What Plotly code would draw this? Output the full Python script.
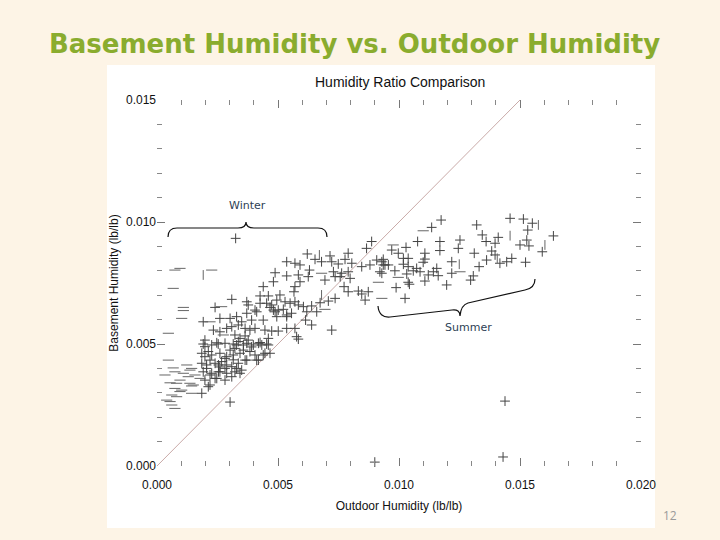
import plotly.graph_objects as go

# ---------------- data (lb/lb) ----------------
# points drawn as "+" markers
plus_x = [
    0.01174, 0.01135, 0.01321, 0.01459, 0.01514, 0.01551, 0.01532, 0.01638, 0.01344, 0.01410,
    0.01360, 0.01397, 0.01528, 0.01500, 0.01537, 0.01592, 0.01252, 0.01169, 0.01245, 0.01169,
    0.01077, 0.01029, 0.00997, 0.00970, 0.01107, 0.01107, 0.01311, 0.01383, 0.01397, 0.01362,
    0.01417, 0.01445, 0.01466, 0.01523, 0.01218, 0.01331, 0.00935, 0.00942, 0.01018, 0.01038,
    0.01018, 0.01038, 0.01100, 0.01073, 0.01059, 0.01087, 0.00983, 0.01156, 0.01142, 0.01121,
    0.01162, 0.01218, 0.01032, 0.01038, 0.01043, 0.01107, 0.01307, 0.01296, 0.01197, 0.00988,
    0.01025, 0.00929,
    0.00887, 0.00866, 0.00790, 0.00621, 0.00715, 0.00653, 0.00680, 0.00536, 0.00570, 0.00591,
    0.00722, 0.00749, 0.00777, 0.00805, 0.00846, 0.00880, 0.00908, 0.00929, 0.00935, 0.00630,
    0.00729, 0.00763, 0.00790, 0.00488, 0.00536, 0.00584, 0.00625, 0.00694, 0.00736, 0.00757,
    0.00798, 0.00921, 0.00956, 0.00481, 0.00591, 0.00570, 0.00566, 0.00773, 0.00790, 0.00832,
    0.00846, 0.00873, 0.00860, 0.00508, 0.00495, 0.00529, 0.00550, 0.00570, 0.00584, 0.00605,
    0.00639, 0.00674, 0.00708, 0.00736, 0.00619, 0.00660, 0.00481, 0.00501, 0.00522, 0.00536,
    0.00474,
    0.00439, 0.00426, 0.00460, 0.00309, 0.00371, 0.00377, 0.00426, 0.00453, 0.00240, 0.00405,
    0.00412, 0.00467, 0.00488, 0.00495, 0.00536, 0.00556, 0.00439, 0.00371, 0.00391, 0.00350,
    0.00329, 0.00302, 0.00260, 0.00191, 0.00309, 0.00336, 0.00364, 0.00384, 0.00288, 0.00233,
    0.00260, 0.00405, 0.00446, 0.00474, 0.00501, 0.00322, 0.00343, 0.00377, 0.00460, 0.00198,
    0.00191, 0.00226, 0.00253, 0.00281, 0.00315, 0.00357, 0.00419, 0.00453, 0.00391,
    0.00577, 0.00570, 0.00536, 0.00614, 0.00639, 0.00722, 0.00584,
    0.00198, 0.00247, 0.00329, 0.00322, 0.00357, 0.00371, 0.00398, 0.00433, 0.00460, 0.00405,
    0.00439, 0.00412, 0.00185, 0.00226, 0.00260, 0.00288, 0.00315, 0.00343, 0.00364, 0.00336,
    0.00309, 0.00288, 0.00267, 0.00240, 0.00205, 0.00219, 0.00191, 0.00226, 0.00260, 0.00288,
    0.00322, 0.00350, 0.00247, 0.00198, 0.00281, 0.00309, 0.00343, 0.00219, 0.00212, 0.00185,
    0.00302, 0.00467,
    0.00212, 0.00198, 0.00185, 0.00205, 0.00219, 0.00254, 0.00281, 0.00302, 0.00336, 0.00364,
    0.00426, 0.00384, 0.00315, 0.00281, 0.00254, 0.00240, 0.00260, 0.00446, 0.00419, 0.00371,
    0.00329,
    0.00325, 0.01438, 0.00900, 0.01430,
]
plus_y = [
    0.01008, 0.00978, 0.00988, 0.01015, 0.01012, 0.00995, 0.00967, 0.00943, 0.00947, 0.00937,
    0.00920, 0.00913, 0.00926, 0.00906, 0.00902, 0.00878, 0.00926, 0.00920, 0.00892, 0.00883,
    0.00920, 0.00896, 0.00872, 0.00885, 0.00872, 0.00848, 0.00872, 0.00881, 0.00865, 0.00844,
    0.00831, 0.00837, 0.00851, 0.00835, 0.00837, 0.00817, 0.00847, 0.00824, 0.00851, 0.00851,
    0.00827, 0.00817, 0.00835, 0.00810, 0.00800, 0.00796, 0.00800, 0.00810, 0.00796, 0.00783,
    0.00780, 0.00790, 0.00787, 0.00753, 0.00745, 0.00758, 0.00779, 0.00762, 0.00742, 0.00731,
    0.00687, 0.00790,
    0.00920, 0.00892, 0.00872, 0.00869, 0.00861, 0.00847, 0.00837, 0.00837, 0.00831, 0.00824,
    0.00837, 0.00828, 0.00847, 0.00831, 0.00817, 0.00824, 0.00844, 0.00837, 0.00824, 0.00803,
    0.00796, 0.00790, 0.00796, 0.00792, 0.00779, 0.00783, 0.00776, 0.00762, 0.00776, 0.00776,
    0.00769, 0.00796, 0.00824, 0.00755, 0.00755, 0.00735, 0.00714, 0.00735, 0.00714, 0.00717,
    0.00705, 0.00714, 0.00680, 0.00701, 0.00680, 0.00673, 0.00667, 0.00673, 0.00660, 0.00653,
    0.00656, 0.00669, 0.00676, 0.00687, 0.00632, 0.00632, 0.00639, 0.00639, 0.00642, 0.00619,
    0.00660,
    0.00735, 0.00697, 0.00697, 0.00683, 0.00673, 0.00660, 0.00667, 0.00667, 0.00650, 0.00639,
    0.00632, 0.00650, 0.00632, 0.00612, 0.00612, 0.00626, 0.00598, 0.00626, 0.00598, 0.00591,
    0.00612, 0.00605, 0.00605, 0.00591, 0.00571, 0.00578, 0.00564, 0.00557, 0.00564, 0.00557,
    0.00550, 0.00564, 0.00557, 0.00553, 0.00553, 0.00537, 0.00523, 0.00516, 0.00523, 0.00516,
    0.00500, 0.00496, 0.00500, 0.00503, 0.00500, 0.00496, 0.00503, 0.00500, 0.00488,
    0.00530, 0.00564, 0.00564, 0.00598, 0.00578, 0.00557, 0.00520,
    0.00489, 0.00505, 0.00496, 0.00482, 0.00475, 0.00503, 0.00496, 0.00496, 0.00496, 0.00455,
    0.00455, 0.00434, 0.00462, 0.00455, 0.00462, 0.00448, 0.00455, 0.00462, 0.00434, 0.00421,
    0.00407, 0.00414, 0.00428, 0.00421, 0.00414, 0.00434, 0.00386, 0.00380, 0.00386, 0.00380,
    0.00386, 0.00393, 0.00359, 0.00352, 0.00352, 0.00366, 0.00380, 0.00332, 0.00325, 0.00298,
    0.00262, 0.00462,
    0.00469, 0.00448, 0.00421, 0.00400, 0.00373, 0.00414, 0.00441, 0.00475, 0.00510, 0.00533,
    0.00506, 0.00469, 0.00435, 0.00400, 0.00386, 0.00359, 0.00406, 0.00462, 0.00434, 0.00434,
    0.00400,
    0.00933, 0.00266, 0.00016, 0.00037,
]

# points whose cross renders as a horizontal dash in the reference
dash_x = [
    0.00047, 0.00123, 0.00143, 0.00074, 0.00109, 0.00157, 0.00033, 0.00129, 0.00178, 0.00095,
    0.00054, 0.00136, 0.00143, 0.00074, 0.00095, 0.00143, 0.00061, 0.00081, 0.00040, 0.00061,
    0.00074, 0.00150, 0.00081, 0.00102, 0.00054, 0.00067, 0.00136,
    0.00095, 0.00074, 0.00226, 0.00067, 0.00109, 0.00109, 0.00102, 0.00047, 0.00267, 0.00219,
    0.00274,
    0.01100, 0.00976, 0.00997, 0.01252, 0.00929, 0.00680, 0.00915, 0.00694,
]
dash_y = [
    0.00434, 0.00414, 0.00400, 0.00386, 0.00380, 0.00373, 0.00373, 0.00366, 0.00359, 0.00352,
    0.00341, 0.00339, 0.00328, 0.00318, 0.00305, 0.00298, 0.00291, 0.00284, 0.00270, 0.00250,
    0.00236, 0.00332, 0.00339, 0.00311, 0.00264, 0.00402, 0.00393,
    0.00810, 0.00803, 0.00803, 0.00728, 0.00650, 0.00637, 0.00605, 0.00544, 0.00653, 0.00591,
    0.00537,
    0.00964, 0.00906, 0.00773, 0.00796, 0.00687, 0.00790, 0.00753, 0.00642,
]

# points whose cross renders as a vertical bar in the reference
bar_x = [0.01576, 0.01459, 0.01406, 0.01249, 0.01603, 0.00671, 0.00680, 0.00191]
bar_y = [0.00988, 0.00944, 0.00851, 0.00827, 0.00906, 0.00865, 0.00701, 0.00783]

# 1:1 reference line
ref_x = [0.0, 0.0152]
ref_y = [0.0, 0.0152]

x_ticks = [0.000, 0.005, 0.010, 0.015, 0.020]
y_ticks = [0.000, 0.005, 0.010, 0.015]

# ---------------- figure ----------------
W, H = 720, 540
L, R, T, B = 157, 641, 100, 466


def px_x(p):
    return (p - L) / (R - L)


def px_y(p):
    return (B - p) / (B - T)


mark_col = "#444444"
fig = go.Figure()

fig.add_trace(go.Scatter(x=ref_x, y=ref_y, mode="lines",
                         line=dict(color="#c9aaa8", width=1), hoverinfo="skip"))
fig.add_trace(go.Scatter(x=plus_x, y=plus_y, mode="markers",
                         marker=dict(symbol="cross-thin", size=7,
                                     line=dict(color=mark_col, width=1))))
fig.add_trace(go.Scatter(x=dash_x, y=dash_y, mode="markers",
                         marker=dict(symbol="line-ew", size=8,
                                     line=dict(color="#666666", width=1))))
fig.add_trace(go.Scatter(x=bar_x, y=bar_y, mode="markers",
                         marker=dict(symbol="line-ns", size=7,
                                     line=dict(color="#666666", width=1))))

shapes = [
    # white picture box
    dict(type="rect", xref="paper", yref="paper", layer="below",
         x0=px_x(107), x1=px_x(655), y0=px_y(528), y1=px_y(65),
         fillcolor="white", line=dict(width=0)),
]


def brace(points):
    parts = []
    for cmd, pts in points:
        coords = " ".join(f"{px_x(a):.5f},{px_y(b):.5f}" for a, b in pts)
        parts.append(f"{cmd} {coords}")
    return " ".join(parts)


winter_path = brace([
    ("M", [(168, 237)]), ("Q", [(168, 228), (177, 228)]), ("L", [(238, 228)]),
    ("Q", [(246, 228), (246, 222)]), ("Q", [(246, 228), (254, 228)]),
    ("L", [(318, 228)]), ("Q", [(327, 228), (327, 237)]),
])
summer_path = brace([
    ("M", [(378, 306)]), ("Q", [(379, 318), (390, 317)]), ("L", [(452, 310)]),
    ("Q", [(460, 309), (460, 316)]), ("Q", [(461, 305), (468, 303)]),
    ("L", [(525, 290)]), ("Q", [(535, 288), (535, 279)]),
])
for pth in (winter_path, summer_path):
    shapes.append(dict(type="path", xref="paper", yref="paper", path=pth,
                       line=dict(color="#111111", width=1.2)))

annotations = [
    dict(text="<b>Basement Humidity vs. Outdoor Humidity</b>", xref="paper", yref="paper",
         x=px_x(354), y=px_y(44), showarrow=False, xanchor="center", yanchor="middle",
         font=dict(family="DejaVu Sans", size=26, color="#8aac2e")),
    dict(text="Humidity Ratio Comparison", xref="paper", yref="paper",
         x=px_x(400), y=px_y(82), showarrow=False, xanchor="center", yanchor="middle",
         font=dict(family="Liberation Sans", size=14, color="#111111")),
    dict(text="Winter", xref="paper", yref="paper", x=px_x(247), y=px_y(205),
         showarrow=False, xanchor="center", yanchor="middle",
         font=dict(family="DejaVu Sans", size=11, color="#2e3f55")),
    dict(text="Summer", xref="paper", yref="paper", x=px_x(468), y=px_y(327),
         showarrow=False, xanchor="center", yanchor="middle",
         font=dict(family="DejaVu Sans", size=11, color="#2e3f55")),
    dict(text="12", xref="paper", yref="paper", x=px_x(670), y=px_y(515),
         showarrow=False, xanchor="center", yanchor="middle",
         font=dict(family="Open Sans", size=12, color="#9a9a9a")),
]

axis_common = dict(
    showgrid=False, zeroline=False, showline=False,
    ticks="inside", ticklen=8, tickcolor="#777777", tickwidth=1,
    mirror="ticks", tickformat=".3f",
    tickfont=dict(family="Liberation Sans", size=12, color="#111111"),
    minor=dict(dtick=0.001, ticks="inside", ticklen=5, tickcolor="#888888", showgrid=False),
)

fig.update_layout(
    width=W, height=H,
    margin=dict(l=L, r=W - R, t=T, b=H - B),
    paper_bgcolor="#fdf4e6", plot_bgcolor="white",
    showlegend=False, hovermode=False,
    shapes=shapes, annotations=annotations,
    xaxis=dict(range=[0, 0.020], tickvals=x_ticks, ticklabelstandoff=10, **axis_common,
               title=dict(text="Outdoor Humidity (lb/lb)", standoff=10,
                          font=dict(family="Liberation Sans", size=12, color="#111111"))),
    yaxis=dict(range=[0, 0.015], tickvals=y_ticks, **axis_common,
               title=dict(text="Basement Humidity (lb/lb)", standoff=4,
                          font=dict(family="Liberation Sans", size=12, color="#111111"))),
)
for tr in fig.data:
    tr.cliponaxis = False

fig.write_html("out.html",
               config={"displayModeBar": False, "staticPlot": True},
               post_script="document.body.style.margin='0';"
                           "document.body.style.background='#fdf4e6';")
